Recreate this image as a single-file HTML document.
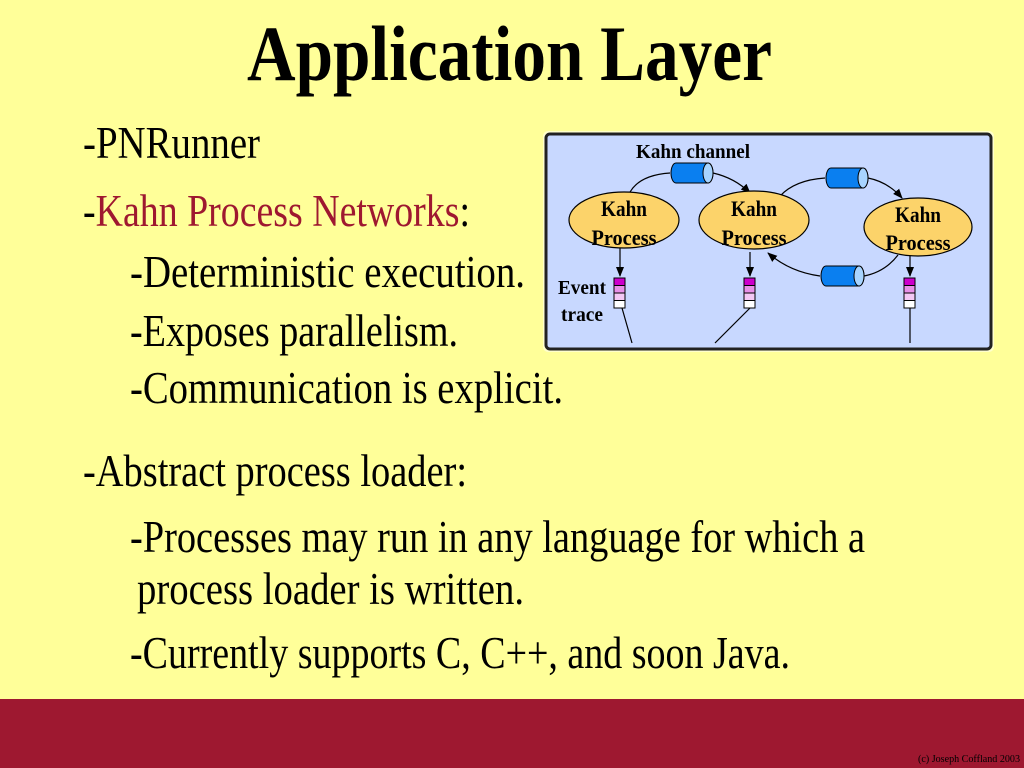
<!DOCTYPE html>
<html><head><meta charset="utf-8"><style>
html,body{margin:0;padding:0;background:#ffff99;}
svg{display:block}
</style></head><body>
<svg width="1024" height="768" viewBox="0 0 1024 768" xmlns="http://www.w3.org/2000/svg">
<defs>
<marker id="ah" markerWidth="10" markerHeight="10" refX="9" refY="5" orient="auto" markerUnits="userSpaceOnUse">
<path d="M0,1 L10,5 L0,9 Z" fill="#000"/>
</marker>
</defs>
<rect width="1024" height="768" fill="#ffff99"/>
<rect x="0" y="699" width="1024" height="69" fill="#9e1830"/>
<text x="918" y="762" font-family="Liberation Serif, serif" font-size="11" fill="#000" textLength="102" lengthAdjust="spacingAndGlyphs">(c) Joseph Coffland 2003</text>

<text x="247" y="80" font-family="Liberation Serif, serif" font-weight="bold" font-size="78" fill="#000" textLength="525" lengthAdjust="spacingAndGlyphs">Application Layer</text>

<g font-family="Liberation Serif, serif" font-size="45" fill="#000">
<text x="83" y="158" textLength="177" lengthAdjust="spacingAndGlyphs">-PNRunner</text>
<text x="83" y="226" textLength="387" lengthAdjust="spacingAndGlyphs">-<tspan fill="#9e1830">Kahn Process Networks</tspan>:</text>
<text x="130" y="287" textLength="395" lengthAdjust="spacingAndGlyphs">-Deterministic execution.</text>
<text x="130" y="346" textLength="328" lengthAdjust="spacingAndGlyphs">-Exposes parallelism.</text>
<text x="130" y="403" textLength="433" lengthAdjust="spacingAndGlyphs">-Communication is explicit.</text>
<text x="83" y="486" textLength="384" lengthAdjust="spacingAndGlyphs">-Abstract process loader:</text>
<text x="130" y="552" textLength="735" lengthAdjust="spacingAndGlyphs">-Processes may run in any language for which a</text>
<text x="137" y="604" textLength="387" lengthAdjust="spacingAndGlyphs">process loader is written.</text>
<text x="130" y="668" textLength="660" lengthAdjust="spacingAndGlyphs">-Currently supports C, C++, and soon Java.</text>
</g>

<rect x="543" y="131" width="451" height="221" rx="5" fill="#ffffcc"/>
<rect x="546" y="134" width="445" height="215" rx="4" fill="#c8d8ff" stroke="#222" stroke-width="3"/>
<g font-family="Liberation Serif, serif" font-weight="bold" fill="#000">
<text x="636" y="158" font-size="20" textLength="114" lengthAdjust="spacingAndGlyphs">Kahn channel</text>
<text x="558" y="294" font-size="20" textLength="48" lengthAdjust="spacingAndGlyphs">Event</text>
<text x="561" y="321" font-size="20" textLength="42" lengthAdjust="spacingAndGlyphs">trace</text>
</g>
<g fill="none" stroke="#000" stroke-width="1.2">
<path d="M630,192 Q640,175 670,173"/>
<path d="M713,173 Q735,178 750,193" marker-end="url(#ah)"/>
<path d="M780,196 Q795,180 825,178"/>
<path d="M868,178 Q888,182 902,198" marker-end="url(#ah)"/>
<path d="M898,255 Q885,272 864,276"/>
<path d="M820,276 Q790,272 768,253" marker-end="url(#ah)"/>
<path d="M620,248 L620,276" marker-end="url(#ah)"/>
<path d="M750,252 L750,276" marker-end="url(#ah)"/>
<path d="M910,256 L910,276" marker-end="url(#ah)"/>
<path d="M622,308 L632,343"/>
<path d="M750,308 L715,343"/>
<path d="M910,308 L910,343"/>
</g>
<g stroke="#000" stroke-width="1.2" fill="#fcd36a">
<ellipse cx="624" cy="220" rx="55" ry="28"/>
<ellipse cx="754" cy="220" rx="55" ry="29"/>
<ellipse cx="918" cy="227" rx="54" ry="29"/>
</g>
<g font-family="Liberation Serif, serif" font-weight="bold" font-size="22" fill="#000" text-anchor="middle">
<text x="624" y="216" textLength="46" lengthAdjust="spacingAndGlyphs">Kahn</text><text x="624" y="245" textLength="65" lengthAdjust="spacingAndGlyphs">Process</text>
<text x="754" y="216" textLength="46" lengthAdjust="spacingAndGlyphs">Kahn</text><text x="754" y="245" textLength="65" lengthAdjust="spacingAndGlyphs">Process</text>
<text x="918" y="222" textLength="46" lengthAdjust="spacingAndGlyphs">Kahn</text><text x="918" y="250" textLength="65" lengthAdjust="spacingAndGlyphs">Process</text>
</g>
<g stroke="#000" stroke-width="1">
<path d="M676,163 L708,163 A5,10 0 0 1 708,183 L676,183 A5,10 0 0 1 676,163 Z" fill="#0a7ff0"/>
<ellipse cx="708" cy="173" rx="5" ry="10" fill="#a8d4ff"/>
<path d="M831,168 L863,168 A5,10 0 0 1 863,188 L831,188 A5,10 0 0 1 831,168 Z" fill="#0a7ff0"/>
<ellipse cx="863" cy="178" rx="5" ry="10" fill="#a8d4ff"/>
<path d="M826,266 L859,266 A5,10 0 0 1 859,286 L826,286 A5,10 0 0 1 826,266 Z" fill="#0a7ff0"/>
<ellipse cx="859" cy="276" rx="5" ry="10" fill="#a8d4ff"/>
</g>
<g stroke="#000" stroke-width="1">
<rect x="614" y="278" width="11" height="7.5" fill="#cc00cc"/>
<rect x="614" y="285.5" width="11" height="7.5" fill="#e890e8"/>
<rect x="614" y="293" width="11" height="7.5" fill="#f4c8f4"/>
<rect x="614" y="300.5" width="11" height="7.5" fill="#fff"/>
<rect x="744" y="278" width="11" height="7.5" fill="#cc00cc"/>
<rect x="744" y="285.5" width="11" height="7.5" fill="#e890e8"/>
<rect x="744" y="293" width="11" height="7.5" fill="#f4c8f4"/>
<rect x="744" y="300.5" width="11" height="7.5" fill="#fff"/>
<rect x="904" y="278" width="11" height="7.5" fill="#cc00cc"/>
<rect x="904" y="285.5" width="11" height="7.5" fill="#e890e8"/>
<rect x="904" y="293" width="11" height="7.5" fill="#f4c8f4"/>
<rect x="904" y="300.5" width="11" height="7.5" fill="#fff"/>
</g>
</svg>
</body></html>
